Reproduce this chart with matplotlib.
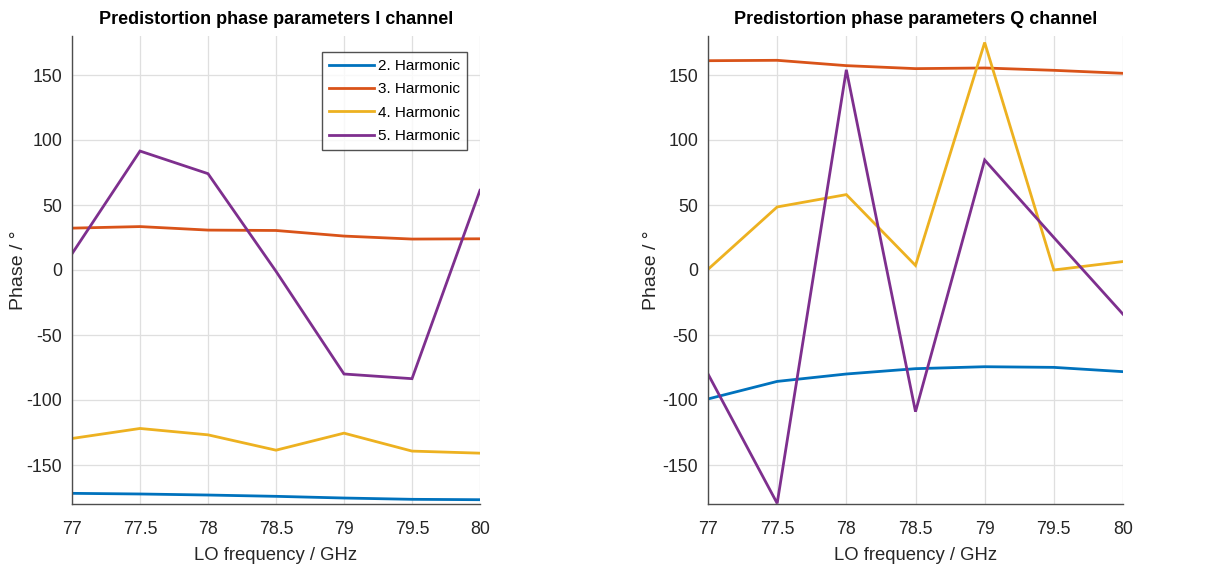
import matplotlib
matplotlib.use("Agg")
import matplotlib.pyplot as plt

plt.rcParams['font.family'] = ['Liberation Sans', 'DejaVu Sans']
plt.rcParams['axes.unicode_minus'] = False

# LO frequency sweep (GHz)
freq = [77.0, 77.5, 78.0, 78.5, 79.0, 79.5, 80.0]

# I channel predistortion phases (degrees)
i_h2 = [-171.8, -172.3, -173.1, -174.1, -175.4, -176.4, -176.7]
i_h3 = [32.2, 33.4, 30.7, 30.4, 26.1, 23.8, 24.0]
i_h4 = [-129.6, -121.9, -126.8, -138.6, -125.5, -139.3, -140.9]
i_h5 = [12.5, 91.5, 74.1, -1.0, -80.0, -83.6, 61.3]

# Q channel predistortion phases (degrees)
q_h2 = [-99.2, -85.7, -80.0, -75.9, -74.4, -74.9, -78.2]
q_h3 = [161.0, 161.3, 157.2, 154.9, 155.4, 153.6, 151.3]
q_h4 = [0.5, 48.5, 58.0, 3.5, 175.0, 0.0, 6.5]
q_h5 = [-80.0, -179.5, 154.0, -109.0, 84.6, 25.0, -34.0]

labels = ['2. Harmonic', '3. Harmonic', '4. Harmonic', '5. Harmonic']
colors = ['#0072BD', '#D95319', '#EDB120', '#7E2F8E']
xticks = [77, 77.5, 78, 78.5, 79, 79.5, 80]
xticklabels = ['77', '77.5', '78', '78.5', '79', '79.5', '80']
yticks = [-150, -100, -50, 0, 50, 100, 150]

fig = plt.figure(figsize=(12.31, 5.67), dpi=100)
W, H = 1231, 567
ax1 = fig.add_axes([72 / W, 1 - 504 / H, 408 / W, 468 / H])
ax2 = fig.add_axes([708 / W, 1 - 504 / H, 415 / W, 468 / H])

panels = [
    (ax1, [i_h2, i_h3, i_h4, i_h5], 'Predistortion phase parameters I channel', -0.11),
    (ax2, [q_h2, q_h3, q_h4, q_h5], 'Predistortion phase parameters Q channel', -0.116),
]

for ax, series, title, ylab_x in panels:
    for vals, lab, col in zip(series, labels, colors):
        ax.plot(freq, vals, color=col, lw=2.0, label=lab, solid_joinstyle='miter')
    ax.set_xlim(77, 80)
    ax.set_ylim(-180, 180)
    ax.set_xticks(xticks)
    ax.set_xticklabels(xticklabels)
    ax.set_yticks(yticks)
    ax.grid(True, color='#dfdfdf', lw=0.9)
    ax.set_axisbelow(True)
    for s in ('top', 'right'):
        ax.spines[s].set_visible(False)
    for s in ('left', 'bottom'):
        ax.spines[s].set_color('#4d4d4d')
        ax.spines[s].set_linewidth(1.0)
    ax.tick_params(length=0, labelsize=12.8, colors='#262626')
    ax.tick_params(axis='x', pad=12)
    ax.tick_params(axis='y', pad=7)
    ax.set_title(title, fontsize=13, fontweight='bold', pad=9)
    ax.set_xlabel('LO frequency / GHz', fontsize=13.3, color='#262626', labelpad=7)
    ax.set_ylabel('Phase / °', fontsize=14, color='#262626')
    ax.yaxis.set_label_coords(ylab_x, 0.5)

leg = ax1.legend(loc='upper right', bbox_to_anchor=(395 / 408, 1 - 16 / 468),
                 fontsize=11, frameon=True, fancybox=False, handlelength=2.9,
                 borderpad=0.45, labelspacing=0.62, handletextpad=0.3,
                 borderaxespad=0)
leg.get_frame().set_edgecolor('#262626')
leg.get_frame().set_linewidth(1.0)

fig.savefig('out.png', dpi=100)
